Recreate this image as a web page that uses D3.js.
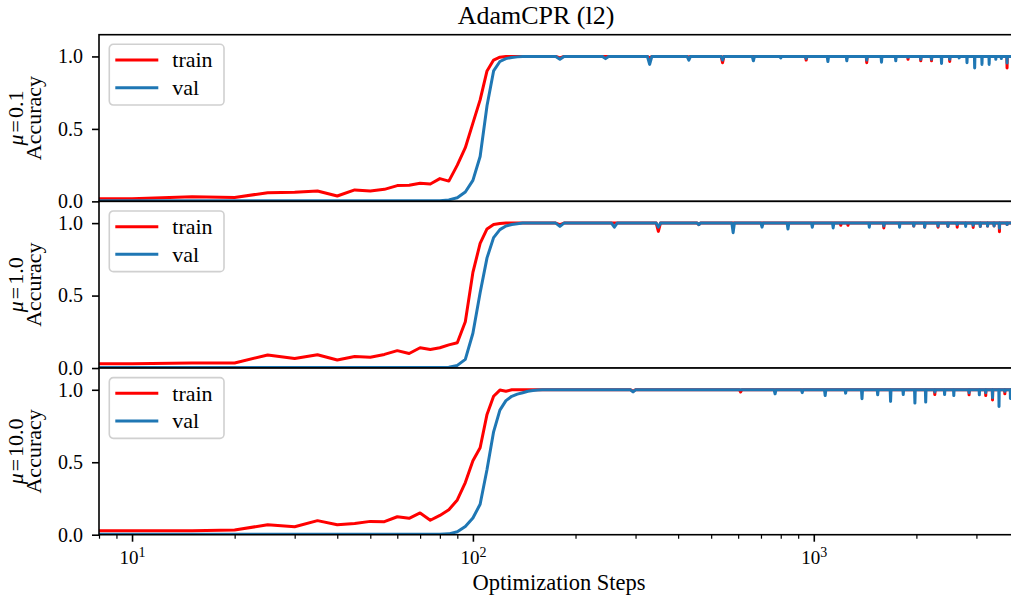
<!DOCTYPE html>
<html>
<head>
<meta charset="utf-8">
<script src="https://cdn.jsdelivr.net/npm/d3@7"></script>
<style>
  body { margin: 0; background: #fff; }
  text { font-family: "Liberation Serif", "Times New Roman", serif; fill: #000; }
</style>
</head>
<body>
<svg id="chart" width="1011" height="601"></svg>
<script>
// ---- data -------------------------------------------------------------
const chartTitle = "AdamCPR (l2)";
const xLabel = "Optimization Steps";
const yLabel = "Accuracy";
const muValues = ["0.1", "1.0", "10.0"];
const seriesNames = ["train", "val"];
const yTicks = [0.0, 0.5, 1.0];
const xMajorTicks = [10, 100, 1000];
const xMajorExponents = ["1", "2", "3"];
const xMinorTicks = [8, 9, 20, 30, 40, 50, 60, 70, 80, 90,
                     200, 300, 400, 500, 600, 700, 800, 900, 2000, 3000, 4000];

// evaluation steps during the warm-up phase (every 5 steps)
const earlySteps = [5, 10, 15, 20, 25, 30, 35, 40, 45, 50, 55, 60, 65, 70, 75, 80,
                    85, 90, 95, 100, 105, 110, 115, 120, 125, 130, 135, 140, 145, 150, 155, 160];

// mu = 0.1
const trainEarly1 = [.02, .018, .032, .027, .06, .063, .072, .037, .079, .072, .083, .109, .111, .125, .12, .157,
                     .14, .25, .37, .54, .70, .90, .975, .995, 1, 1, 1, 1, 1, 1, 1, 1];
const valEarly1   = [.004, .004, .004, .004, .004, .004, .004, .004, .004, .004, .004, .004, .004, .004, .004, .005,
                     .01, .025, .065, .145, .31, .66, .90, .965, .985, .993, .997, 1, 1, 1, 1, 1];
const tailSteps1 = [
  175, 180, 185,    240, 245, 250,    325, 330, 335,    425, 430, 435,
  535, 540, 545,    660, 665, 670,    795, 800, 805,    945, 950, 955,
  1095, 1100, 1105, 1245, 1250, 1255, 1425, 1430, 1435, 1575, 1580, 1585,
  1735, 1740, 1745, 1885, 1890, 1895, 2055, 2060, 2065, 2210, 2215, 2220,
  2365, 2370, 2375, 2500, 2505, 2510, 2665, 2670, 2675, 2810, 2815, 2820,
  2960, 2965, 2970, 3110, 3115, 3120, 3265, 3270, 3275, 3415, 3420, 3425,
  3545, 3550, 3555, 3685, 3690, 3695, 4000
];
const trainTail1 = [
  1, .99, 1,   1, 1, 1,     1, .99, 1,   1, .995, 1,
  1, .957, 1,  1, 1, 1,     1, .995, 1,  1, .975, 1,
  1, 1, 1,     1, .99, 1,   1, .957, 1,  1, 1, 1,
  1, 1, 1,     1, .98, 1,   1, .97, 1,   1, .97, 1,
  1, 1, 1,     1, .965, 1,  1, 1, 1,     1, 1, 1,
  1, 1, 1,     1, 1, 1,     1, 1, 1,     1, 1, 1,
  1, 1, 1,     1, .92, 1,   1
];
const valTail1 = [
  1, .98, 1,   1, .985, 1,  1, .945, 1,  1, .975, 1,
  1, .975, 1,  1, .97, 1,   1, .99, 1,   1, .985, 1,
  1, .965, 1,  1, .97, 1,   1, .975, 1,  1, .96, 1,
  1, .97, 1,   1, .995, 1,  1, .98, 1,   1, .98, 1,
  1, .952, 1,  1, .98, 1,   1, .99, 1,   1, .957, 1,
  1, .92, 1,   1, .945, 1,  1, .945, 1,  1, .98, 1,
  1, .985, 1,  1, .955, 1,  1
];

// mu = 1.0
const trainEarly2 = [.03, .03, .035, .035, .09, .066, .092, .055, .08, .075, .094, .12, .10, .14, .128, .14,
                     .16, .175, .32, .66, .86, .96, .99, .997, 1, 1, 1, 1, 1, 1, 1, 1];
const valEarly2   = [.004, .004, .004, .004, .004, .004, .004, .004, .004, .004, .004, .004, .004, .004, .004, .004,
                     .006, .018, .06, .24, .52, .76, .90, .955, .98, .99, .996, 1, 1, 1, 1, 1];
const tailSteps2 = [
  175, 180, 185,    255, 260, 265,    345, 350, 355,    455, 460, 465,
  575, 580, 585,    700, 705, 710,    835, 840, 845,    985, 990, 995,
  1135, 1140, 1145, 1195, 1200, 1205, 1255, 1260, 1265, 1450, 1455, 1460,
  1600, 1605, 1610, 1780, 1785, 1790, 1960, 1965, 1970, 2110, 2115, 2120,
  2310, 2315, 2320, 2470, 2475, 2480, 2630, 2635, 2640, 2785, 2790, 2795,
  2930, 2935, 2940, 3075, 3080, 3085, 3230, 3235, 3240, 3375, 3380, 3385,
  3500, 3505, 3510, 3685, 3690, 3695, 4000
];
const trainTail2 = [
  1, .99, 1,   1, 1, 1,     1, .943, 1,  1, .99, 1,
  1, 1, 1,     1, 1, 1,     1, 1, 1,     1, 1, 1,
  1, 1, 1,     1, .985, 1,  1, .985, 1,  1, 1, 1,
  1, .967, 1,  1, 1, 1,     1, .98, 1,   1, .972, 1,
  1, .972, 1,  1, .977, 1,  1, .972, 1,  1, .99, 1,
  1, .97, 1,   1, .977, 1,  1, .98, 1,   1, .98, 1,
  1, .94, 1,   1, .99, 1,   1
];
const valTail2 = [
  1, .977, 1,  1, .972, 1,  1, .972, 1,  1, .99, 1,
  1, .934, 1,  1, .972, 1,  1, .96, 1,   1, .972, 1,
  1, .967, 1,  1, 1, 1,     1, 1, 1,     1, .972, 1,
  1, .98, 1,   1, .972, 1,  1, .98, 1,   1, .972, 1,
  1, .98, 1,   1, .977, 1,  1, .99, 1,   1, .977, 1,
  1, .985, 1,  1, .977, 1,  1, .98, 1,   1, .98, 1,
  1, .965, 1,  1, .99, 1,   1
];

// mu = 10.0
const trainEarly3 = [.028, .028, .028, .032, .069, .055, .097, .069, .078, .092, .09, .124, .113, .15, .10, .133,
                     .172, .24, .36, .51, .60, .83, .955, .998, .99, 1, 1, 1, 1, 1, 1, 1];
const valEarly3   = [.004, .004, .004, .004, .004, .004, .004, .004, .004, .004, .004, .004, .004, .004, .004, .004,
                     .006, .02, .057, .115, .21, .45, .71, .86, .925, .955, .97, .98, .99, .995, .998, 1];
const tailSteps3 = [
  290, 295, 300,    605, 610, 615,    765, 770, 775,    920, 925, 930,
  1075, 1080, 1085, 1235, 1240, 1245, 1380, 1385, 1390, 1535, 1540, 1545,
  1675, 1680, 1685, 1825, 1830, 1835, 1975, 1980, 1985, 2125, 2130, 2135,
  2260, 2265, 2270, 2415, 2420, 2425, 2570, 2575, 2580, 2850, 2855, 2860,
  3055, 3060, 3065, 3190, 3195, 3200, 3340, 3345, 3350, 3490, 3495, 3500,
  3630, 3635, 3640, 3770, 3775, 3780, 4000
];
const trainTail3 = [
  1, .99, 1,   1, .985, 1,  1, 1, 1,     1, 1, 1,
  1, 1, 1,     1, 1, 1,     1, 1, 1,     1, 1, 1,
  1, 1, 1,     1, 1, 1,     1, 1, 1,     1, 1, 1,
  1, .967, 1,  1, 1, 1,     1, 1, 1,     1, .965, 1,
  1, 1, 1,     1, .96, 1,   1, .93, 1,   1, 1, 1,
  1, .972, 1,  1, 1, 1,     1
];
const valTail3 = [
  1, .985, 1,  1, 1, 1,     1, .972, 1,  1, .98, 1,
  1, .96, 1,   1, .977, 1,  1, .938, 1,  1, .965, 1,
  1, .92, 1,   1, .967, 1,  1, .908, 1,  1, .915, 1,
  1, .985, 1,  1, .967, 1,  1, .96, 1,   1, .98, 1,
  1, .965, 1,  1, .98, 1,   1, .945, 1,  1, .885, 1,
  1, .99, 1,   1, .94, 1,   1
];

const colors = { train: "#ff0000", val: "#1f77b4" };

// ---- panels -----------------------------------------------------------
const panels = [
  { mu: muValues[0], steps: earlySteps.concat(tailSteps1),
    train: trainEarly1.concat(trainTail1), val: valEarly1.concat(valTail1) },
  { mu: muValues[1], steps: earlySteps.concat(tailSteps2),
    train: trainEarly2.concat(trainTail2), val: valEarly2.concat(valTail2) },
  { mu: muValues[2], steps: earlySteps.concat(tailSteps3),
    train: trainEarly3.concat(trainTail3), val: valEarly3.concat(valTail3) }
];
panels.forEach(p => {
  if (p.steps.length !== p.train.length || p.steps.length !== p.val.length)
    console.warn("length mismatch", p.mu, p.steps.length, p.train.length, p.val.length);
});

// ---- layout -----------------------------------------------------------
const svg = d3.select("#chart");
const plotLeft = 99, plotRight = 1019, plotTop = 34.7, panelH = 166.67;
const x = d3.scaleLog().domain([8, 4000]).range([plotLeft, plotRight]);
const tickFont = 20, labelFont = 22;

svg.append("rect").attr("width", 1011).attr("height", 601).attr("fill", "#fff");

panels.forEach((p, i) => {
  const top = plotTop + i * panelH;
  const bottom = top + panelH;
  const y = d3.scaleLinear().domain([0, 1.15]).range([bottom, top]);
  const g = svg.append("g");

  // background of the axes (covers anything reaching down from the panel above)
  g.append("rect").attr("x", plotLeft).attr("y", top)
    .attr("width", plotRight - plotLeft).attr("height", panelH).attr("fill", "#fff");

  const clipId = "clip" + i;
  svg.append("clipPath").attr("id", clipId).append("rect")
    .attr("x", plotLeft).attr("y", top).attr("width", plotRight - plotLeft).attr("height", panelH);

  const lines = g.append("g").attr("clip-path", `url(#${clipId})`);
  seriesNames.forEach(name => {
    const vals = p[name];
    const line = d3.line().x((d, k) => x(p.steps[k])).y(d => y(d));
    lines.append("path").datum(vals)
      .attr("d", line)
      .attr("fill", "none")
      .attr("stroke", colors[name])
      .attr("stroke-width", 3)
      .attr("stroke-linejoin", "round")
      .attr("stroke-linecap", "square");
  });

  // y axis
  const yAxis = g.append("g").attr("transform", `translate(${plotLeft},0)`)
    .call(d3.axisLeft(y).tickValues(yTicks).tickFormat(d3.format(".1f")).tickSize(7).tickPadding(9));
  yAxis.select(".domain").remove();
  yAxis.selectAll(".tick line").attr("stroke", "#000").attr("stroke-width", 1.6);
  yAxis.selectAll(".tick text").attr("font-size", tickFont)
    .style("font-family", '"Liberation Serif", serif');

  // bottom axis only on the last panel
  if (i === panels.length - 1) {
    const xMinor = g.append("g").attr("transform", `translate(0,${bottom})`)
      .call(d3.axisBottom(x).tickValues(xMinorTicks).tickSize(4).tickFormat(""));
    xMinor.select(".domain").remove();
    xMinor.selectAll(".tick line").attr("stroke", "#000").attr("stroke-width", 1.2);

    const xMajor = g.append("g").attr("transform", `translate(0,${bottom})`)
      .call(d3.axisBottom(x).tickValues(xMajorTicks).tickSize(7).tickFormat(""));
    xMajor.select(".domain").remove();
    xMajor.selectAll(".tick line").attr("stroke", "#000").attr("stroke-width", 1.6);
    xMajor.selectAll(".tick").each(function (d, k) {
      const t = d3.select(this).append("text")
        .attr("y", 29.3).attr("text-anchor", "middle").style("font-family", '"Liberation Serif", serif');
      t.append("tspan").attr("font-size", 19).text("10");
      t.append("tspan").attr("font-size", 14).attr("dy", -7).text(xMajorExponents[k]);
    });

    svg.append("text").attr("x", (plotLeft + plotRight) / 2).attr("y", 590)
      .attr("text-anchor", "middle").attr("font-size", 22.5).text(xLabel);
  }

  // spines
  g.append("rect").attr("x", plotLeft).attr("y", top)
    .attr("width", plotRight - plotLeft).attr("height", panelH)
    .attr("fill", "none").attr("stroke", "#000").attr("stroke-width", 1.6);

  // legend
  const lg = g.append("g").attr("transform", `translate(${plotLeft + 10.3},${top + 9.6})`);
  lg.append("rect").attr("width", 114.7).attr("height", 60.7).attr("rx", 4)
    .attr("fill", "#fff").attr("fill-opacity", 0.8)
    .attr("stroke", "#d0d0d0").attr("stroke-width", 1.6);
  seriesNames.forEach((name, k) => {
    const ly = 15.7 + k * 27.7;
    lg.append("line").attr("x1", 6).attr("x2", 49).attr("y1", ly).attr("y2", ly)
      .attr("stroke", colors[name]).attr("stroke-width", 3);
    lg.append("text").attr("x", 63).attr("y", ly).attr("dy", "0.33em")
      .attr("font-size", labelFont).text(name);
  });

  // two-line y label: mu value and metric
  const cy = (top + bottom) / 2;
  const yl = svg.append("text").attr("transform", `translate(23,${cy}) rotate(-90)`)
    .attr("text-anchor", "middle").attr("font-size", labelFont);
  yl.append("tspan").attr("font-style", "italic").text("μ");
  yl.append("tspan").attr("dx", 2).text("=");
  yl.append("tspan").attr("dx", 2).text(p.mu);
  svg.append("text").attr("transform", `translate(41,${cy}) rotate(-90)`)
    .attr("text-anchor", "middle").attr("font-size", labelFont).text(yLabel);
});

// figure title, centred on the full figure width
svg.append("text").attr("x", 536).attr("y", 23.5)
  .attr("text-anchor", "middle").attr("font-size", 26).text(chartTitle);
</script>
</body>
</html>
